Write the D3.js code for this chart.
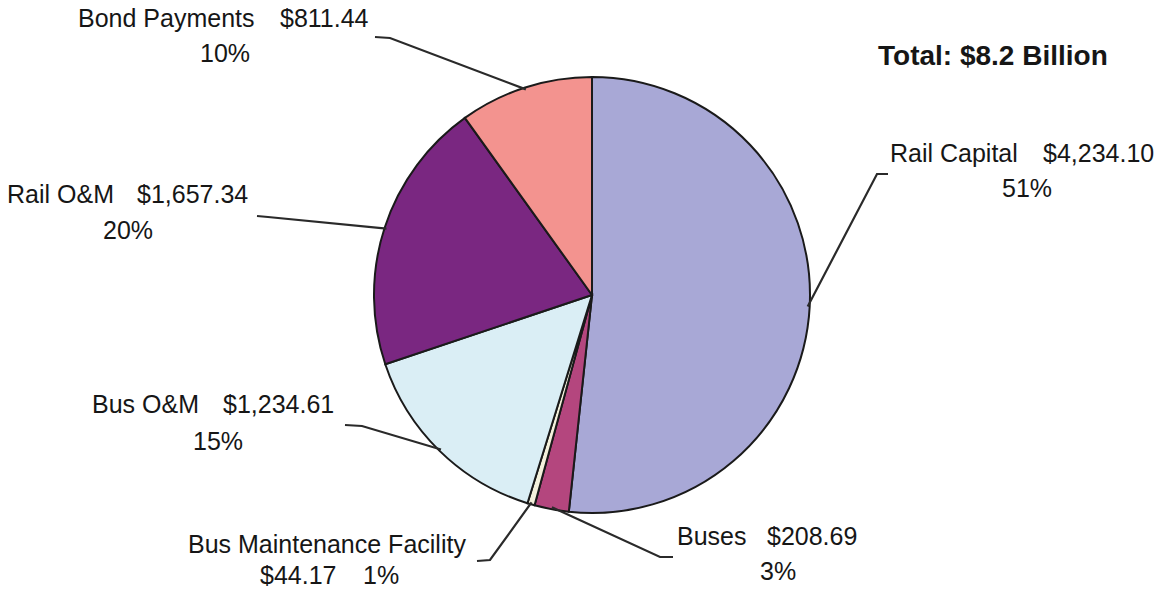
<!DOCTYPE html>
<html>
<head>
<meta charset="utf-8">
<script src="https://cdn.jsdelivr.net/npm/d3@7"></script>
<style>
  body { margin: 0; background: #fff; }
  text { font-family: "Liberation Sans", Arial, sans-serif; fill: #161616; }
</style>
</head>
<body>
<div id="wrapper"></div>
<script>
// data
const categories = ["Rail Capital", "Buses", "Bus Maintenance Facility", "Bus O&M", "Rail O&M", "Bond Payments"]
const amounts = [4234.10, 208.69, 44.17, 1234.61, 1657.34, 811.44]
const percentLabels = ["51%", "3%", "1%", "15%", "20%", "10%"]
const totalLabel = "Total: $8.2 Billion"
const colors = ["#a8a8d6", "#b4467e", "#f4f1dc", "#daeef5", "#7a2781", "#f3938f"]

// label layout (elbow, line end, text spots)
const labelLayout = [
  {elbow: [877, 174], end: [888, 174], name: [890, 162], value: [1043, 162], pct: [1002, 197]},
  {elbow: [660, 557], end: [673, 557], name: [677, 545], value: [767, 545], pct: [760, 580]},
  {elbow: [490, 560], end: [477, 561], name: [188, 553], value: [260, 584], pct: [363, 584]},
  {elbow: [362, 426], end: [345, 425], name: [92, 413], value: [223, 413], pct: [193, 450]},
  {elbow: [268, 217], end: [257, 216], name: [7, 203], value: [137, 203], pct: [103, 239]},
  {elbow: [390, 38], end: [375, 37], name: [78, 27], value: [280, 27], pct: [200, 62]},
]

const dataset = categories.map((c, i) => ({name: c, amount: amounts[i], pct: percentLabels[i], color: colors[i], layout: labelLayout[i]}))

// dimensions
const dimensions = {width: 1160, height: 589}
const center = [592, 295]
const radius = 218

const svg = d3.select("#wrapper")
    .append("svg")
    .attr("width", dimensions.width)
    .attr("height", dimensions.height)

const pie = d3.pie()
    .value(d => d.amount)
    .sort(null)
const arcs = pie(dataset)
const arcGen = d3.arc().innerRadius(0).outerRadius(radius)

const pieGroup = svg.append("g")
    .attr("transform", `translate(${center[0]}, ${center[1]})`)

pieGroup.selectAll("path")
    .data(arcs)
    .join("path")
    .attr("d", arcGen)
    .attr("fill", d => d.data.color)
    .attr("stroke", "#1a1a1a")
    .attr("stroke-width", 2)

// leader lines
const edgePoint = d => {
  const a = (d.startAngle + d.endAngle) / 2
  return [center[0] + Math.sin(a) * (radius - 2), center[1] - Math.cos(a) * (radius - 2)]
}
svg.append("g")
  .selectAll("path")
  .data(arcs)
  .join("path")
    .attr("d", d => d3.line()([edgePoint(d), d.data.layout.elbow, d.data.layout.end]))
    .attr("fill", "none")
    .attr("stroke", "#2a2a2a")
    .attr("stroke-width", 2.2)

const formatMoney = d3.format("$,.2f")
const labels = svg.append("g")
  .selectAll("g")
  .data(dataset)
  .join("g")
  .style("font-size", "25px")

labels.append("text")
    .attr("x", d => d.layout.name[0])
    .attr("y", d => d.layout.name[1])
    .text(d => d.name)
labels.append("text")
    .attr("x", d => d.layout.value[0])
    .attr("y", d => d.layout.value[1])
    .text(d => formatMoney(d.amount))
labels.append("text")
    .attr("x", d => d.layout.pct[0])
    .attr("y", d => d.layout.pct[1])
    .text(d => d.pct)

svg.append("text")
    .attr("x", 878)
    .attr("y", 65)
    .style("font-size", "28px")
    .style("font-weight", "bold")
    .text(totalLabel)
</script>
</body>
</html>
